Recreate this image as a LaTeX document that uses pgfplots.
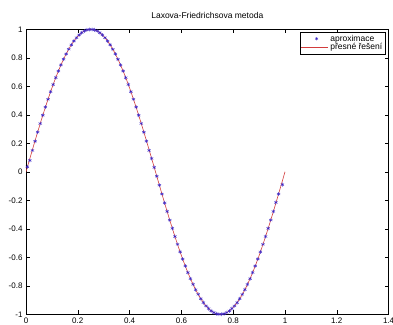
\documentclass[border=0pt]{standalone}
\usepackage{pgfplots}
\pgfplotsset{compat=1.18}
\usepackage{pgfplotstable}
\usepackage{fontspec}
\setmainfont{Liberation Sans}
\definecolor{exactred}{RGB}{210,60,60}
\definecolor{approxblue}{RGB}{60,40,200}
\pgfplotsset{
  lineleg/.style={legend image code/.code={\draw[##1] (0cm,0cm) -- (0.95cm,0cm);}},
  markleg/.style={legend image code/.code={\draw[##1, mark size=1.6pt] plot coordinates {(0.55cm,0cm)};}},
}
\pgfplotstableread{
x y
0.00 0.0000
0.01 0.0628
0.02 0.1253
0.03 0.1874
0.04 0.2487
0.05 0.3090
0.06 0.3681
0.07 0.4258
0.08 0.4818
0.09 0.5358
0.10 0.5878
0.11 0.6374
0.12 0.6845
0.13 0.7290
0.14 0.7705
0.15 0.8090
0.16 0.8443
0.17 0.8763
0.18 0.9048
0.19 0.9298
0.20 0.9511
0.21 0.9686
0.22 0.9823
0.23 0.9921
0.24 0.9980
0.25 1.0000
0.26 0.9980
0.27 0.9921
0.28 0.9823
0.29 0.9686
0.30 0.9511
0.31 0.9298
0.32 0.9048
0.33 0.8763
0.34 0.8443
0.35 0.8090
0.36 0.7705
0.37 0.7290
0.38 0.6845
0.39 0.6374
0.40 0.5878
0.41 0.5358
0.42 0.4818
0.43 0.4258
0.44 0.3681
0.45 0.3090
0.46 0.2487
0.47 0.1874
0.48 0.1253
0.49 0.0628
0.50 0.0000
0.51 -0.0628
0.52 -0.1253
0.53 -0.1874
0.54 -0.2487
0.55 -0.3090
0.56 -0.3681
0.57 -0.4258
0.58 -0.4818
0.59 -0.5358
0.60 -0.5878
0.61 -0.6374
0.62 -0.6845
0.63 -0.7290
0.64 -0.7705
0.65 -0.8090
0.66 -0.8443
0.67 -0.8763
0.68 -0.9048
0.69 -0.9298
0.70 -0.9511
0.71 -0.9686
0.72 -0.9823
0.73 -0.9921
0.74 -0.9980
0.75 -1.0000
0.76 -0.9980
0.77 -0.9921
0.78 -0.9823
0.79 -0.9686
0.80 -0.9511
0.81 -0.9298
0.82 -0.9048
0.83 -0.8763
0.84 -0.8443
0.85 -0.8090
0.86 -0.7705
0.87 -0.7290
0.88 -0.6845
0.89 -0.6374
0.90 -0.5878
0.91 -0.5358
0.92 -0.4818
0.93 -0.4258
0.94 -0.3681
0.95 -0.3090
0.96 -0.2487
0.97 -0.1874
0.98 -0.1253
0.99 -0.0628
1.00 0.0000
}\exact
\pgfplotstableread{
x y
0.005 0.0350
0.015 0.0800
0.025 0.1500
0.035 0.2150
0.045 0.2780
0.055 0.3390
0.065 0.3970
0.075 0.4540
0.085 0.5090
0.095 0.5620
0.105 0.6120
0.115 0.6610
0.125 0.7070
0.135 0.7500
0.145 0.7900
0.155 0.8270
0.165 0.8600
0.175 0.8910
0.185 0.9180
0.195 0.9410
0.205 0.9600
0.215 0.9760
0.225 0.9880
0.235 0.9960
0.245 0.9990
0.255 0.9990
0.265 0.9960
0.275 0.9880
0.285 0.9760
0.295 0.9600
0.305 0.9410
0.315 0.9180
0.325 0.8910
0.335 0.8600
0.345 0.8270
0.355 0.7900
0.365 0.7500
0.375 0.7070
0.385 0.6610
0.395 0.6120
0.405 0.5620
0.415 0.5090
0.425 0.4540
0.435 0.3970
0.445 0.3390
0.455 0.2780
0.465 0.2150
0.475 0.1500
0.485 0.0940
0.495 0.0310
0.505 -0.0310
0.515 -0.0940
0.525 -0.1560
0.535 -0.2180
0.545 -0.2780
0.555 -0.3390
0.565 -0.3970
0.575 -0.4540
0.585 -0.5090
0.595 -0.5620
0.605 -0.6120
0.615 -0.6610
0.625 -0.7070
0.635 -0.7500
0.645 -0.7900
0.655 -0.8270
0.665 -0.8600
0.675 -0.8910
0.685 -0.9180
0.695 -0.9410
0.705 -0.9600
0.715 -0.9760
0.725 -0.9880
0.735 -0.9960
0.745 -0.9990
0.755 -0.9990
0.765 -0.9960
0.775 -0.9880
0.785 -0.9760
0.795 -0.9600
0.805 -0.9410
0.815 -0.9180
0.825 -0.8910
0.835 -0.8600
0.845 -0.8270
0.855 -0.7900
0.865 -0.7500
0.875 -0.7070
0.885 -0.6610
0.895 -0.6120
0.905 -0.5620
0.915 -0.5090
0.925 -0.4540
0.935 -0.3970
0.945 -0.3390
0.955 -0.2780
0.965 -0.2150
0.975 -0.1560
0.990 -0.0900
}\approxdata
\begin{document}
\begin{tikzpicture}
\begin{axis}[
  at={(0pt,0pt)}, anchor=south west,
  scale only axis,
  width=362.6pt, height=285pt,
  xmin=0, xmax=1.4, ymin=-1, ymax=1,
  xtick={0,0.2,...,1.4}, ytick={-1,-0.8,...,1},
  tick align=inside,
  major tick length=4pt,
  tick style={black, line width=0.4pt},
  axis line style={black, line width=0.5pt},
  tick label style={font=\fontsize{8}{9}\selectfont},
  /pgf/number format/assume math mode=true,
  yticklabel style={/pgf/number format/fixed},
  xticklabel style={/pgf/number format/fixed},
  title={Laxova-Friedrichsova metoda},
  title style={font=\fontsize{8.5}{9}\selectfont, yshift=1pt},
  legend style={at={(0.99,0.99)}, anchor=north east, fill=white,
     font=\fontsize{8.5}{8.5}\selectfont, cells={anchor=west}, inner sep=0.5pt,
     row sep=-3pt, nodes={inner sep=2pt}},
]
\addplot[only marks, mark=asterisk, mark size=1.9pt, color=approxblue, line width=0.45pt, markleg]
  table[x=x,y=y] {\approxdata};
\addlegendentry{aproximace}
\addplot[color=exactred, line width=0.6pt, mark=none, lineleg]
  table[x=x,y=y] {\exact};
\addlegendentry{přesné řešení}
\end{axis}
\pgfresetboundingbox
\path[use as bounding box] (-26pt,-9.7pt) rectangle (367pt,314.3pt);
\end{tikzpicture}
\end{document}
